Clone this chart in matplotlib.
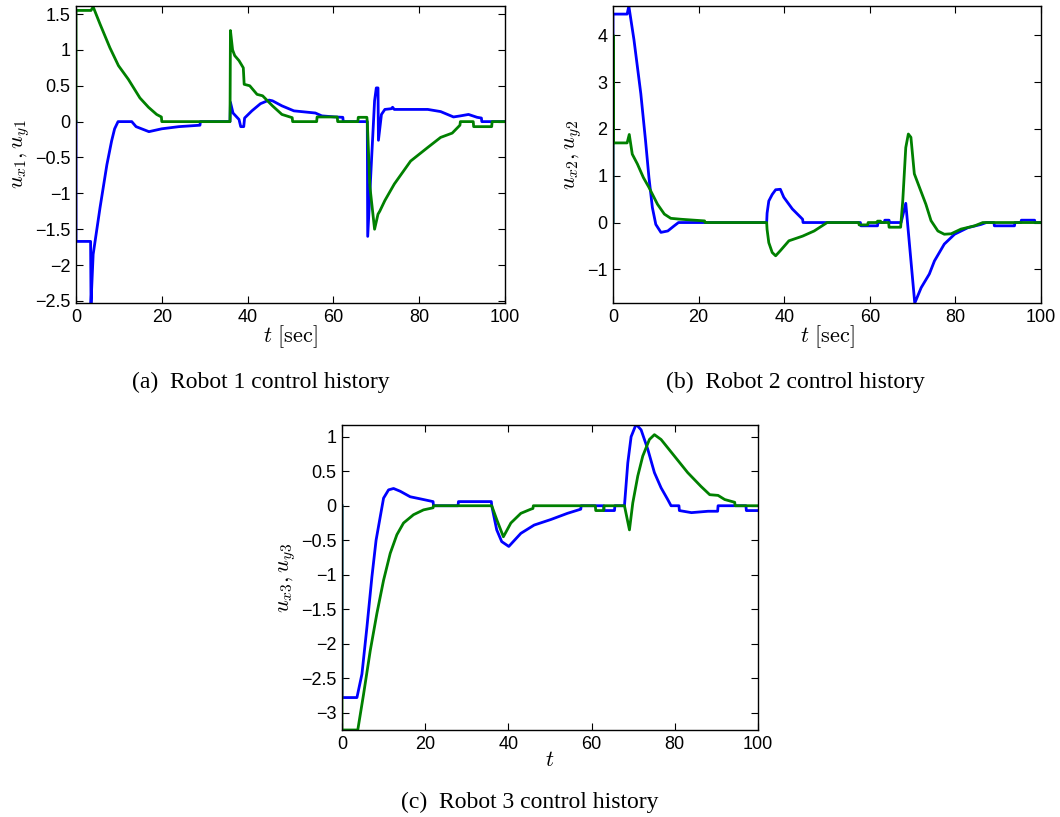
import matplotlib
matplotlib.use('Agg')
import matplotlib.pyplot as plt

plt.rcParams['font.family'] = ['Liberation Sans', 'DejaVu Sans']
plt.rcParams['mathtext.fontset'] = 'cm'

BLUE = (0, 0, 1)
GREEN = (0, 0.5, 0)

# ROBOT 1
t_x1 = [0, 0, 3.4, 3.5, 4.0, 5.6, 7.2, 8.3, 9.0, 9.8, 13.0, 14.0, 17.0, 20.0, 24.0, 28.9, 29.0,
        35.9, 36.0, 36.6, 38.0, 38.4, 39.1, 39.3, 41.0, 43.0, 45.0, 45.8, 48.0, 50.8, 55.8,
        57.3, 60.4, 62.2, 62.3, 67.9, 68.0, 68.8, 69.6, 70.0, 70.4, 70.5, 71.2, 72.0, 73.5,
        73.8, 74.2, 82.0, 85.0, 88.0, 89.6, 91.5, 93.5, 94.5, 94.6, 100]
u_x1 = [0, -1.67, -1.67, -2.53, -1.85, -1.2, -0.6, -0.27, -0.1, 0.0, 0.0, -0.07, -0.14, -0.1, -0.07,
        -0.05, 0.0, 0.0, 0.27, 0.12, 0.03, -0.07, -0.07, 0.05, 0.15, 0.25, 0.3, 0.29, 0.22, 0.15,
        0.12, 0.08, 0.065, 0.06, 0.0, 0.0, -1.6, -0.64, 0.29, 0.47, 0.47, -0.26, 0.1, 0.17, 0.18,
        0.2, 0.17, 0.17, 0.14, 0.065, 0.08, 0.1, 0.06, 0.05, 0.0, 0.0]
t_y1 = [0, 0, 3.5, 4.0, 5.6, 7.9, 9.9, 12.2, 14.9, 16.9, 18.8, 19.9, 20.0, 35.9, 36.0, 36.5,
        37.0, 38.0, 39.0, 39.2, 40.5, 42.2, 43.5, 45.8, 48.0, 50.4, 50.5, 56.1, 56.2, 60.9, 61.0,
        65.7, 65.8, 67.8, 67.9, 68.5, 69.6, 70.4, 70.8, 72.0, 74.2, 78.0, 82.0, 85.0, 87.7,
        89.5, 89.6, 92.6, 92.7, 96.9, 97.0, 100]
u_y1 = [0, 1.55, 1.55, 1.6, 1.36, 1.03, 0.78, 0.59, 0.33, 0.2, 0.1, 0.065, 0.0, 0.0, 1.27, 1.0,
        0.92, 0.85, 0.75, 0.52, 0.5, 0.38, 0.36, 0.22, 0.1, 0.055, 0.0, 0.0, 0.065, 0.065, 0.0,
        0.0, 0.06, 0.06, 0.0, -0.9, -1.5, -1.29, -1.25, -1.1, -0.87, -0.55, -0.36, -0.22, -0.16,
        -0.05, 0.0, 0.0, -0.07, -0.07, 0.0, 0.0]

# ROBOT 2
t_x2 = [0, 0, 3.3, 3.7, 4.9, 6.5, 7.6, 8.4, 9.2, 10.0, 11.2, 12.8, 14.3, 15.3, 35.9, 36.0,
        36.4, 37.2, 38.0, 39.1, 39.9, 41.9, 44.3, 44.4, 57.8, 57.9, 61.8, 61.9, 63.4, 63.5,
        64.5, 64.6, 67.3, 68.4, 70.5, 72.0, 73.9, 75.1, 77.4, 79.8, 82.9, 86.0, 87.2, 89.0,
        89.1, 93.8, 93.9, 95.3, 95.4, 98.5, 98.6, 100]
u_x2 = [0, 4.45, 4.45, 4.62, 3.9, 2.75, 1.75, 0.96, 0.32, -0.04, -0.21, -0.18, -0.07, 0.0, 0.0,
        0.2, 0.46, 0.6, 0.7, 0.71, 0.54, 0.29, 0.07, 0.0, 0.0, -0.07, -0.07, 0.0, 0.0, 0.05, 0.05,
        0.0, 0.0, 0.41, -1.72, -1.39, -1.1, -0.82, -0.46, -0.25, -0.11, -0.04, 0.0, 0.0, -0.07,
        -0.07, 0.0, 0.0, 0.05, 0.05, 0.0, 0.0]
t_y2 = [0, 0, 0.05, 0.1, 3.3, 3.8, 4.5, 5.7, 7.1, 8.4, 10.4, 12.0, 13.5, 15.9, 19.0, 21.4, 21.5,
        35.9, 36.0, 36.4, 37.2, 38.0, 39.1, 41.1, 44.3, 47.0, 49.7, 50.0, 57.4, 57.5, 59.5, 59.6,
        61.7, 61.8, 62.5, 62.6, 64.4, 64.5, 67.2, 67.7, 68.4, 69.0, 69.6, 70.4, 71.6, 73.1, 74.3,
        75.9, 77.4, 79.0, 81.3, 84.5, 86.4, 100]
u_y2 = [0, 4.0, 4.0, 1.7, 1.7, 1.88, 1.46, 1.25, 0.96, 0.75, 0.39, 0.18, 0.09, 0.07, 0.05,
        0.035, 0.0, 0.0, -0.15, -0.43, -0.64, -0.71, -0.6, -0.39, -0.29, -0.18, -0.02, 0.0, 0.0,
        -0.05, -0.05, 0.0, 0.0, 0.03, 0.03, 0.0, 0.0, -0.1, -0.1, 0.47, 1.6, 1.89, 1.82, 1.04,
        0.75, 0.39, 0.04, -0.18, -0.25, -0.24, -0.14, -0.07, 0.0, 0.0]

# ROBOT 3
t_x3 = [0, 0, 3.6, 4.8, 6.0, 7.2, 8.2, 9.2, 10.0, 11.2, 12.4, 14.0, 16.4, 18.8, 21.9, 22.0,
        27.9, 28.0, 35.9, 36.0, 37.2, 38.4, 40.1, 43.0, 46.2, 50.2, 54.2, 57.4, 57.5, 62.9,
        63.0, 65.5, 65.6, 67.9, 68.7, 69.5, 70.7, 71.9, 73.5, 75.1, 76.7, 78.3, 79.1, 81.0,
        81.1, 84.0, 88.0, 90.3, 90.4, 97.1, 97.2, 100]
u_x3 = [0, -2.78, -2.78, -2.44, -1.76, -1.03, -0.5, -0.16, 0.11, 0.23, 0.25, 0.21, 0.13, 0.1,
        0.06, 0.0, 0.0, 0.06, 0.06, 0.0, -0.35, -0.52, -0.59, -0.4, -0.28, -0.2, -0.11, -0.05,
        0.0, 0.0, -0.07, -0.07, 0.0, 0.0, 0.62, 1.0, 1.18, 1.1, 0.82, 0.48, 0.26, 0.09, 0.0, 0.0,
        -0.07, -0.1, -0.08, -0.08, 0.0, 0.0, -0.07, -0.07]
t_y3 = [0, 0, 3.8, 5.2, 6.8, 8.4, 10.0, 11.6, 13.2, 14.8, 17.2, 19.6, 21.9, 22.0, 36.0, 37.2,
        38.8, 40.6, 43.0, 45.4, 45.9, 46.0, 60.9, 61.0, 62.9, 63.0, 67.9, 69.1, 69.9, 71.1, 72.3,
        73.9, 75.1, 76.7, 79.9, 83.1, 86.3, 88.4, 90.4, 92.0, 94.4, 94.5, 100]
u_y3 = [0, -3.25, -3.25, -2.73, -2.1, -1.56, -1.08, -0.69, -0.42, -0.25, -0.13, -0.06, -0.03,
        0.0, 0.0, -0.2, -0.45, -0.25, -0.11, -0.05, -0.04, 0.0, 0.0, -0.07, -0.07, 0.0, 0.0,
        -0.35, 0.04, 0.43, 0.72, 0.96, 1.03, 0.96, 0.72, 0.48, 0.28, 0.16, 0.15, 0.09, 0.05, 0.0,
        0.0]

xticks = [0, 20, 40, 60, 80, 100]

fig = plt.figure(figsize=(10.6, 8.17), dpi=100)


def setup(ax, ylim, yticks, yticklabels, ylabel, xlabel):
    ax.set_xlim(0, 100)
    ax.set_ylim(*ylim)
    ax.set_xticks(xticks)
    ax.set_yticks(yticks)
    ax.set_yticklabels(yticklabels)
    ax.tick_params(direction='in', top=True, right=True, length=5, width=0.8,
                   labelsize=13, pad=4)
    for s in ax.spines.values():
        s.set_linewidth(1.0)
    ax.set_ylabel(ylabel, fontsize=16, labelpad=2)
    ax.set_xlabel(xlabel, fontsize=16, labelpad=-2)


# (a)
ax1 = fig.add_axes([0.0717, 0.629, 0.4047, 0.3635])
ax1.plot(t_x1, u_x1, color=BLUE, lw=2)
ax1.plot(t_y1, u_y1, color=GREEN, lw=2)
setup(ax1, (-2.53, 1.61), [-2.5, -2, -1.5, -1, -0.5, 0, 0.5, 1, 1.5],
      ['\u22122.5', '\u22122', '\u22121.5', '\u22121', '\u22120.5', '0', '0.5', '1', '1.5'],
      r'$u_{x1}, u_{y1}$', r'$t\ [\mathrm{sec}]$')

# (b)
ax2 = fig.add_axes([0.5783, 0.629, 0.4038, 0.3635])
ax2.plot(t_x2, u_x2, color=BLUE, lw=2)
ax2.plot(t_y2, u_y2, color=GREEN, lw=2)
setup(ax2, (-1.72, 4.62), [-1, 0, 1, 2, 3, 4],
      ['\u22121', '0', '1', '2', '3', '4'],
      r'$u_{x2}, u_{y2}$', r'$t\ [\mathrm{sec}]$')

# (c)
ax3 = fig.add_axes([0.3226, 0.1065, 0.3925, 0.3733])
ax3.plot(t_x3, u_x3, color=BLUE, lw=2)
ax3.plot(t_y3, u_y3, color=GREEN, lw=2)
setup(ax3, (-3.25, 1.17), [-3, -2.5, -2, -1.5, -1, -0.5, 0, 0.5, 1],
      ['\u22123', '\u22122.5', '\u22122', '\u22121.5', '\u22121', '\u22120.5', '0', '0.5', '1'],
      r'$u_{x3}, u_{y3}$', r'$t$')

cap = dict(fontsize=17, family='Liberation Serif', ha='center', va='center')
fig.text(261 / 1060, 1 - 382 / 817, '(a)  Robot 1 control history', **cap)
fig.text(795 / 1060, 1 - 382 / 817, '(b)  Robot 2 control history', **cap)
fig.text(530 / 1060, 1 - 802 / 817, '(c)  Robot 3 control history', **cap)

fig.savefig('out.png', dpi=100)
